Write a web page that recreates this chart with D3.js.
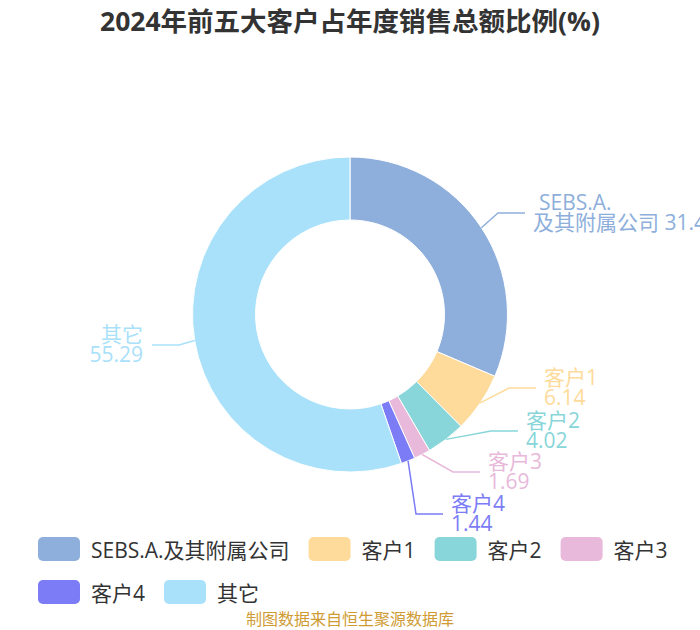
<!DOCTYPE html>
<html>
<head>
<meta charset="utf-8">
<title>2024年前五大客户占年度销售总额比例</title>
<script src="https://d3js.org/d3.v7.min.js"></script>
<style>
    body { margin: 0; background: #fff; }
    svg text { font-family: "Open Sans", "Noto Sans CJK SC", sans-serif; }
</style>
</head>
<body>
<svg width="700" height="630"></svg>
<script>
    // data
    const names = ["SEBS.A.及其附属公司", "客户1", "客户2", "客户3", "客户4", "其它"]
    const values = [31.42, 6.14, 4.02, 1.69, 1.44, 55.29]
    const colors = ["#8eafdb", "#fedb9a", "#88d6d9", "#e8b9da", "#7b7cf6", "#a9e1fa"]
    const title = "2024年前五大客户占年度销售总额比例(%)"
    const source = "制图数据来自恒生聚源数据库"

    // label elbows (layout only, like the overlap-avoid step of a pie label)
    const labelElbow = [[498, 213], [509, 388], [491, 431], [453, 472], [416, 514], [179, 345]]

    const svg = d3.select("svg")
    const width = +svg.attr("width")
    const cx = 350, cy = 314.5
    const outerR = 157.5, innerR = 94.5

    svg.append("text")
        .attr("x", width / 2)
        .attr("y", 31)
        .attr("text-anchor", "middle")
        .attr("font-size", 26.5)
        .attr("font-weight", "bold")
        .attr("fill", "#333")
        .text(title)

    const data = names.map((n, i) => ({ name: n, value: values[i], color: colors[i] }))
    const pie = d3.pie().sort(null).value(d => d.value)
    const arc = d3.arc().innerRadius(innerR).outerRadius(outerR)
    const arcs = pie(data)

    const g = svg.append("g").attr("transform", `translate(${cx},${cy})`)
    g.selectAll("path")
        .data(arcs)
        .enter()
        .append("path")
        .attr("d", arc)
        .attr("fill", d => d.data.color)
        .attr("stroke", "#fff")
        .attr("stroke-width", 1)

    // labels
    const len2 = 27
    const labels = svg.append("g")
    arcs.forEach((a, i) => {
        const mid = (a.startAngle + a.endAngle) / 2
        const x0 = cx + outerR * Math.sin(mid)
        const y0 = cy - outerR * Math.cos(mid)
        const [ex, ey] = labelElbow[i]
        const right = Math.sin(mid) >= 0
        const x2 = right ? ex + len2 : ex - len2
        labels.append("polyline")
            .attr("points", [[x0, y0], [ex, ey], [x2, ey]].map(p => p.join(",")).join(" "))
            .attr("fill", "none")
            .attr("stroke", a.data.color)
            .attr("stroke-width", 1.5)

        const name = a.data.name
        const dot = name.lastIndexOf(".")
        const lines = dot > 0
            ? [name.slice(0, dot + 1), name.slice(dot + 1) + " " + d3.format(".2f")(a.data.value)]
            : [name, d3.format(".2f")(a.data.value)]

        const tx = right ? x2 + 8 : x2 - 9
        const t = labels.append("text")
            .attr("x", tx)
            .attr("y", ey - 3.5)
            .attr("text-anchor", right ? "start" : "end")
            .attr("font-size", 21)
            .attr("fill", a.data.color)
        lines.forEach((l, k) => {
            t.append("tspan")
                .attr("x", tx + (dot > 0 && k === 0 ? 6 : 0))
                .attr("dy", k === 0 ? 0 : 20)
                .text(l)
        })
    })

    // legend, wrapping rows
    const legend = svg.append("g")
    const legLeft = 38, legRight = width - 5
    const sw = 42, sh = 24, gapText = 11, gapItem = 19, rowH = 43
    let lx = legLeft, ly = 549
    data.forEach(d => {
        const item = legend.append("g")
        const txt = item.append("text")
            .attr("font-size", 21)
            .attr("fill", "#333")
            .attr("dominant-baseline", "central")
            .text(d.name)
        const tw = txt.node().getComputedTextLength()
        const w = sw + gapText + tw
        if (lx + w > legRight && lx > legLeft) {
            lx = legLeft
            ly += rowH
        }
        item.insert("rect", "text")
            .attr("x", lx).attr("y", ly - sh / 2)
            .attr("width", sw).attr("height", sh)
            .attr("rx", 5)
            .attr("fill", d.color)
        txt.attr("x", lx + sw + gapText).attr("y", ly + 1)
        lx += w + gapItem
    })

    svg.append("text")
        .attr("x", width / 2)
        .attr("y", 625)
        .attr("text-anchor", "middle")
        .attr("font-size", 16)
        .attr("fill", "#cf9b33")
        .text(source)
</script>
</body>
</html>
